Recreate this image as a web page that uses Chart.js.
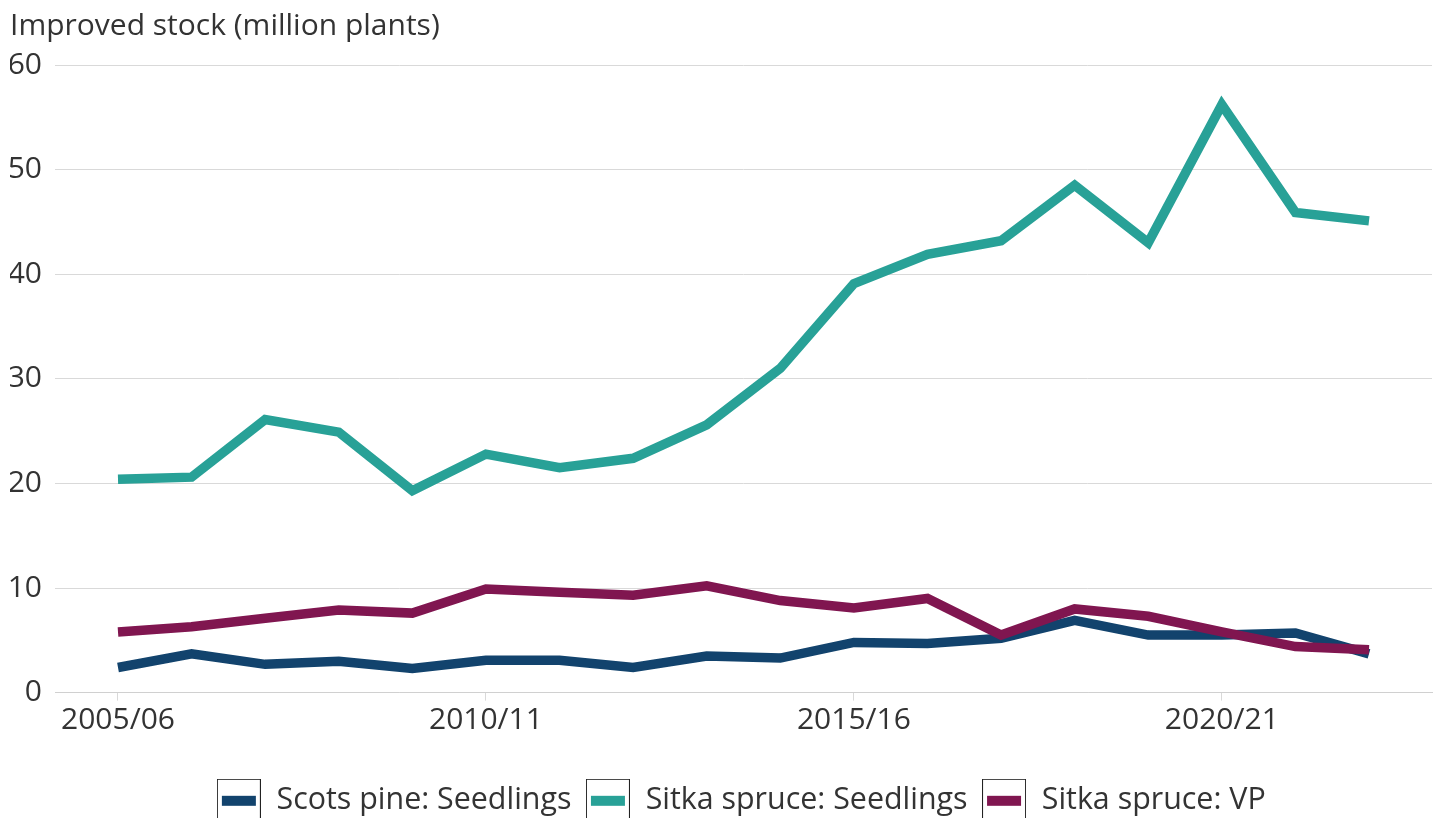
<!DOCTYPE html>
<html>
<head>
<meta charset="utf-8">
<script src="https://cdn.jsdelivr.net/npm/chart.js@4.4.1/dist/chart.umd.min.js"></script>
<style>
  html, body { margin: 0; padding: 0; background: #ffffff; }
  #wrap { width: 1437px; height: 818px; position: relative; }
</style>
</head>
<body>
<div id="wrap"><canvas id="c" width="1437" height="818"></canvas></div>
<script>
const categories = ['2005/06','2006/07','2007/08','2008/09','2009/10','2010/11','2011/12','2012/13','2013/14',
  '2014/15','2015/16','2016/17','2017/18','2018/19','2019/20','2020/21','2021/22','2022/23'];
const tickLabels = ['2005/06','2010/11','2015/16','2020/21'];
const scotsPineSeedlings = [2.4, 3.7, 2.7, 3.0, 2.3, 3.1, 3.1, 2.4, 3.5, 3.3, 4.8, 4.7, 5.2, 6.9, 5.5, 5.5, 5.7, 3.7];
const sitkaSpruceSeedlings = [20.4, 20.6, 26.1, 24.9, 19.3, 22.8, 21.5, 22.4, 25.6, 31.0, 39.1, 41.9, 43.2, 48.5, 43.0, 56.2, 45.9, 45.1];
const sitkaSpruceVP = [5.8, 6.3, 7.1, 7.9, 7.6, 9.9, 9.6, 9.3, 10.2, 8.8, 8.1, 9.0, 5.5, 8.0, 7.3, 5.8, 4.4, 4.1];
const seriesNames = ['Scots pine: Seedlings', 'Sitka spruce: Seedlings', 'Sitka spruce: VP'];
const yTitle = 'Improved stock (million plants)';

const COLORS = ['#12436D', '#28A197', '#801650'];
const TEXT = '#333333';
const GRID = '#d9d9d9';
const FONT = "'Open Sans', 'Noto Sans', sans-serif";

function legendIcon(color) {
  const c = document.createElement('canvas');
  c.width = 44; c.height = 44;
  const g = c.getContext('2d');
  g.strokeStyle = '#222222';
  g.lineWidth = 1;
  g.strokeRect(0.5, 0.5, 43, 43);
  g.fillStyle = color;
  g.fillRect(5, 17, 34, 10);
  return c;
}

function toPoints(arr) { return arr.map((v, i) => ({ x: i, y: v })); }

const seriesData = [scotsPineSeedlings, sitkaSpruceSeedlings, sitkaSpruceVP];
const datasets = seriesData.map((arr, i) => ({
  label: seriesNames[i],
  data: toPoints(arr),
  borderColor: COLORS[i],
  backgroundColor: COLORS[i],
  borderWidth: 9.5,
  pointRadius: 0,
  pointHoverRadius: 0,
  tension: 0,
  fill: false,
  borderCapStyle: 'butt',
  borderJoinStyle: 'miter',
  pointStyle: legendIcon(COLORS[i]),
  order: 3 - i
}));

const legendShift = {
  id: 'legendShift',
  afterLayout(chart) {
    if (chart.legend) { chart.legend.left += 20; chart.legend.right += 20; }
  }
};

new Chart(document.getElementById('c'), {
  type: 'line',
  data: { datasets },
  plugins: [legendShift],
  options: {
    responsive: false,
    animation: false,
    devicePixelRatio: 1,
    layout: { padding: { left: 10, right: 5, top: 0, bottom: -8 } },
    plugins: {
      tooltip: { enabled: false },
      title: {
        display: true,
        text: yTitle,
        align: 'start',
        color: TEXT,
        font: { family: FONT, size: 30, weight: 'normal' },
        padding: { top: 8, bottom: 21 }
      },
      legend: {
        position: 'bottom',
        align: 'center',
        labels: {
          usePointStyle: true,
          pointStyleWidth: 45,
          padding: 14,
          color: TEXT,
          font: { family: FONT, size: 30.4 },
          sort: (a, b) => a.datasetIndex - b.datasetIndex
        }
      }
    },
    scales: {
      x: {
        type: 'linear',
        min: -0.856,
        max: 17.856,
        afterBuildTicks: (s) => { s.ticks = tickLabels.map(t => ({ value: categories.indexOf(t) })); },
        afterFit: (s) => { s.height = 79; },
        ticks: {
          color: TEXT,
          font: { family: FONT, size: 30 },
          padding: 2,
          maxRotation: 0,
          autoSkip: false,
          callback: (v) => categories[v]
        },
        grid: { display: true, drawOnChartArea: false, drawTicks: true, tickLength: 8, color: GRID },
        border: { display: true, color: '#d0d0d0', width: 1 }
      },
      y: {
        min: 0,
        max: 60,
        afterFit: (s) => { s.width = 45; },
        ticks: {
          stepSize: 10,
          color: TEXT,
          padding: 13,
          font: { family: FONT, size: 30 }
        },
        grid: { color: GRID, drawTicks: false, lineWidth: 1 },
        border: { display: false }
      }
    }
  }
});
</script>
</body>
</html>
